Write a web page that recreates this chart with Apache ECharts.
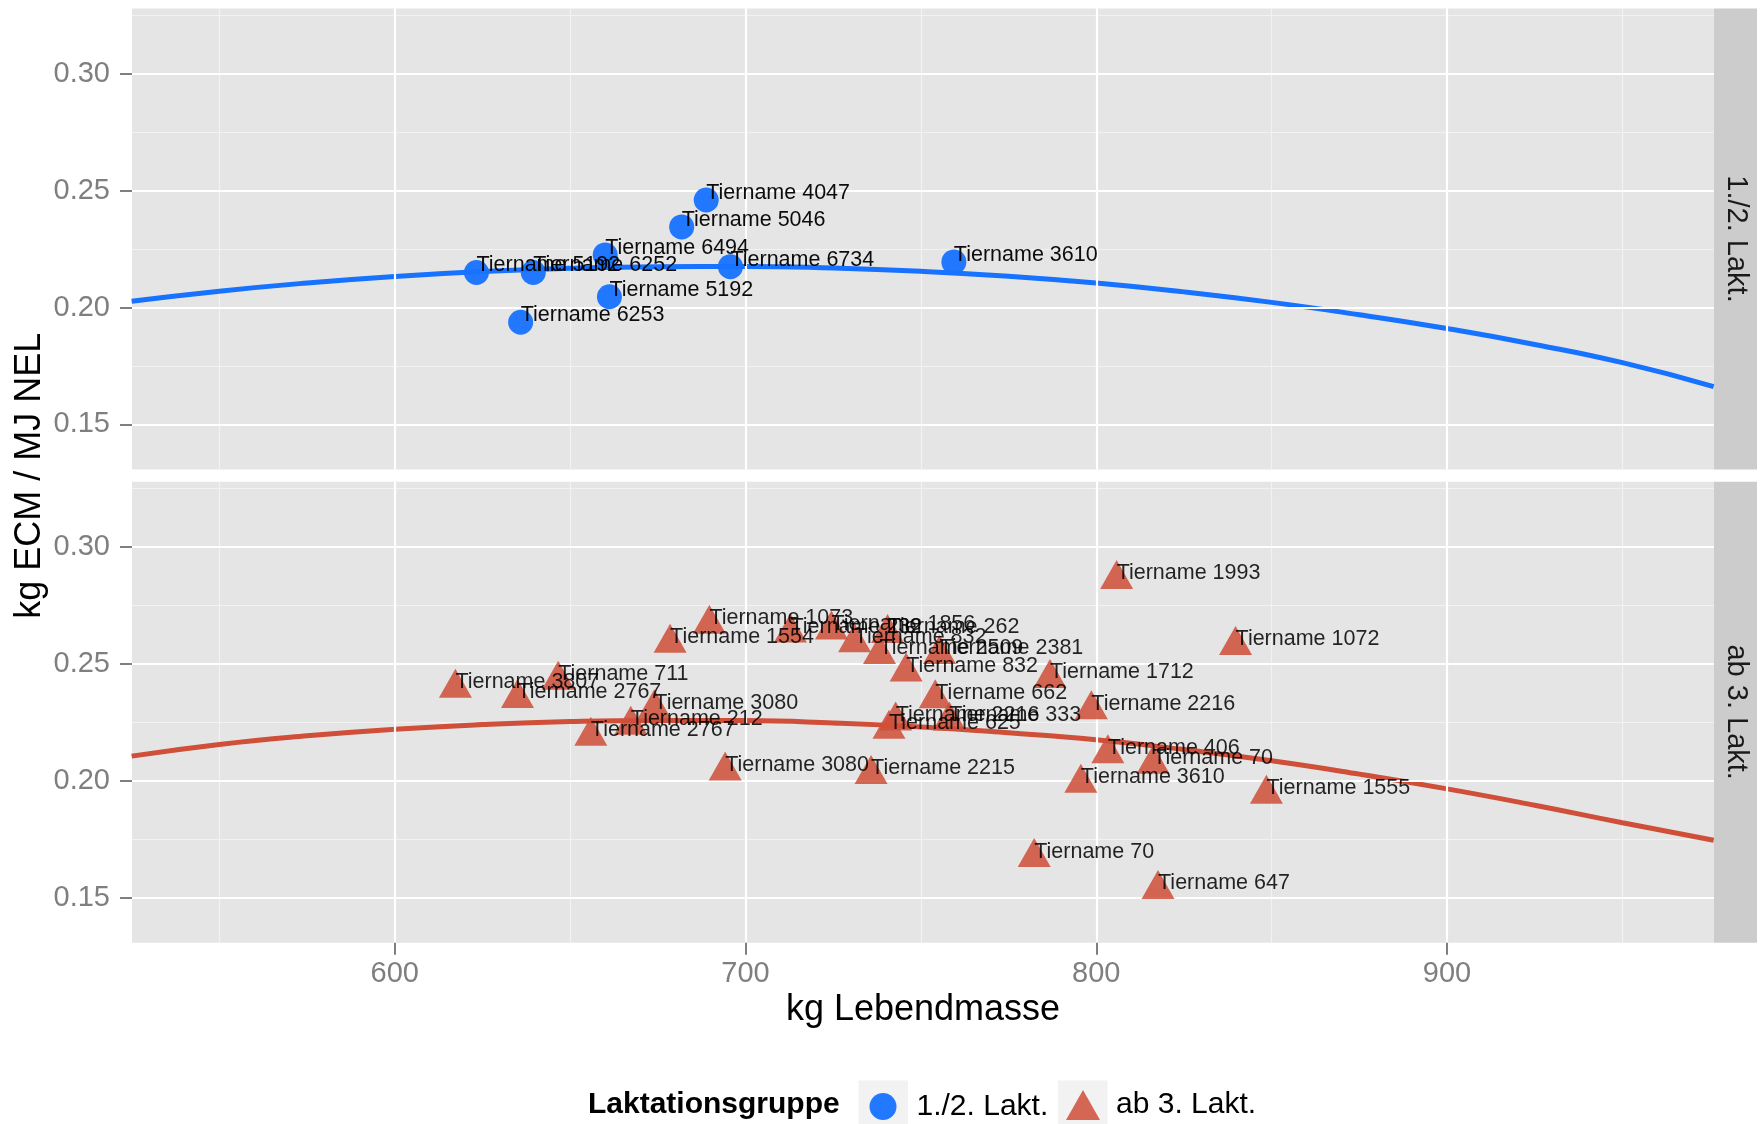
<!DOCTYPE html>
<html>
<head>
<meta charset="utf-8">
<script src="https://cdn.jsdelivr.net/npm/echarts@6/dist/echarts.min.js"></script>
<style>
html,body{margin:0;padding:0;background:#ffffff;}
#chart{width:1764px;height:1124px;}
</style>
</head>
<body>
<div id="chart"></div>
<script>
// ---------------- data ----------------
const groupNames = ['1./2. Lakt.', 'ab 3. Lakt.'];

const lakt12Names = ['Tiername 4047','Tiername 5046','Tiername 6494','Tiername 6734','Tiername 3610',
  'Tiername 5192','Tiername 6252','Tiername 5192','Tiername 6253'];
const lakt12X = [688.8, 681.8, 660.0, 695.7, 759.4, 623.3, 639.5, 661.2, 635.9];
const lakt12Y = [0.2460, 0.2345, 0.2225, 0.2175, 0.2195, 0.2150, 0.2150, 0.2046, 0.1937];

const lakt3Names = ['Tiername 3807','Tiername 2767','Tiername 711','Tiername 2767','Tiername 212',
  'Tiername 3080','Tiername 1554','Tiername 1073','Tiername 3080','Tiername 232',
  'Tiername 1856','Tiername 832','Tiername 262','Tiername 2509','Tiername 832',
  'Tiername 2381','Tiername 662','Tiername 625','Tiername 2216','Tiername 333',
  'Tiername 2215','Tiername 1993','Tiername 1072','Tiername 1712','Tiername 2216',
  'Tiername 406','Tiername 70','Tiername 3610','Tiername 1555','Tiername 70','Tiername 647'];
const lakt3X = [617.3, 635.0, 646.6, 655.9, 667.3,
  674.0, 678.5, 689.7, 694.2, 712.8,
  724.5, 731.1, 740.5, 738.2, 745.8,
  755.3, 754.1, 740.9, 742.8, 758.1,
  735.8, 805.8, 839.7, 786.8, 798.6,
  803.3, 816.2, 795.6, 848.5, 782.3, 817.6];
const lakt3Y = [0.2395, 0.2352, 0.2430, 0.2190, 0.2237,
  0.2308, 0.2588, 0.2669, 0.2042, 0.2632,
  0.2645, 0.2590, 0.2630, 0.2540, 0.2465,
  0.2540, 0.2350, 0.2220, 0.2255, 0.2255,
  0.2027, 0.2861, 0.2578, 0.2437, 0.2303,
  0.2115, 0.2070, 0.1989, 0.1942, 0.1671, 0.1535];

// fitted curves
const fitX   = [525, 550, 575, 600, 625, 650, 675, 700, 725, 750, 775, 800, 825, 850, 875, 900, 925, 950, 976];
const fit12Y = [0.2027, 0.2070, 0.2105, 0.2133, 0.2154, 0.2168, 0.2175, 0.2176, 0.2169, 0.2155,
                0.2134, 0.2105, 0.2067, 0.2022, 0.1969, 0.1910, 0.1842, 0.1764, 0.1662];
const fit3Y  = [0.2105, 0.2155, 0.2192, 0.2220, 0.2240, 0.2253, 0.2258, 0.2257, 0.2247, 0.2230,
                0.2205, 0.2175, 0.2133, 0.2085, 0.2028, 0.1965, 0.1895, 0.1820, 0.1745];

const xTicks = [600, 700, 800, 900];
const xMinorTicks = [550, 650, 750, 850, 950];
const yTicks = [0.15, 0.20, 0.25, 0.30];
const yMinorTicks = [0.175, 0.225, 0.275, 0.325];
const xRange = [525.1, 976.1];
const yRange = [0.1307, 0.3279];

const xTitle = 'kg Lebendmasse';
const yTitle = 'kg ECM / MJ NEL';
const legendTitle = 'Laktationsgruppe';

// ---------------- style ----------------
const BLUE = '#1672FF';
const RED = '#CF4F38';
const FONT = '"Liberation Sans", Arial, Helvetica, sans-serif';
const PANEL_L = 132, PANEL_R = 1714;
const panels = [{top: 8.6, height: 460.9}, {top: 481.7, height: 461}];
const STRIP_W = 43;

const chart = echarts.init(document.getElementById('chart'), null, {renderer: 'canvas'});

function majorX(gi, bottom) {
  return {
    type: 'value', gridIndex: gi, min: xRange[0], max: xRange[1], position: 'bottom', z: 2,
    axisLine: {show: false},
    axisTick: {show: bottom, customValues: xTicks, length: 12, lineStyle: {color: '#7F7F7F', width: 2}},
    axisLabel: {show: bottom, customValues: xTicks, color: '#7F7F7F', fontSize: 29, fontFamily: FONT, margin: 17},
    splitLine: {show: true, lineStyle: {color: '#FFFFFF', width: 2.2}},
    name: bottom ? xTitle : '', nameLocation: 'middle', nameGap: 49,
    nameTextStyle: {color: '#000000', fontSize: 36, fontFamily: FONT}
  };
}
function minorX(gi) {
  return {
    type: 'value', gridIndex: gi, min: xRange[0], max: xRange[1], position: 'top', z: 1,
    axisLine: {show: false},
    axisTick: {show: false, customValues: xMinorTicks},
    axisLabel: {show: false, customValues: xMinorTicks},
    splitLine: {show: true, lineStyle: {color: '#F2F2F2', width: 1.2}}
  };
}
function majorY(gi) {
  return {
    type: 'value', gridIndex: gi, min: yRange[0], max: yRange[1], position: 'left', z: 2,
    axisLine: {show: false},
    axisTick: {show: true, customValues: yTicks, length: 12, lineStyle: {color: '#7F7F7F', width: 2}},
    axisLabel: {show: true, customValues: yTicks, color: '#7F7F7F', fontSize: 29, fontFamily: FONT, margin: 22,
      formatter: v => Number(v).toFixed(2)},
    splitLine: {show: true, lineStyle: {color: '#FFFFFF', width: 2.2}}
  };
}
function minorY(gi) {
  return {
    type: 'value', gridIndex: gi, min: yRange[0], max: yRange[1], position: 'right', z: 1,
    axisLine: {show: false},
    axisTick: {show: false, customValues: yMinorTicks},
    axisLabel: {show: false, customValues: yMinorTicks},
    splitLine: {show: true, lineStyle: {color: '#F2F2F2', width: 1.2}}
  };
}

const labelStyle = {
  show: true, position: 'inside', align: 'left', verticalAlign: 'middle',
  color: '#000000', fontSize: 21.5, fontFamily: FONT,
  formatter: p => p.data[2]
};

const option = {
  animation: false,
  backgroundColor: '#ffffff',
  grid: panels.map(p => ({
    left: PANEL_L, top: p.top, width: PANEL_R - PANEL_L, height: p.height,
    show: true, backgroundColor: '#E5E5E5', borderWidth: 0, containLabel: false
  })),
  xAxis: [majorX(0, false), majorX(1, true), minorX(0), minorX(1)],
  yAxis: [majorY(0), majorY(1), minorY(0), minorY(1)],
  legend: [
    {
      data: [{name: groupNames[0], icon: 'circle'}], selectedMode: false,
      left: 869.5, top: 1091.5, itemWidth: 27, itemHeight: 27, itemGap: 0, padding: 0,
      textStyle: {color: '#000000', fontSize: 30, fontFamily: FONT, padding: [0, 0, 0, 15]}
    },
    {
      data: [{name: groupNames[1], icon: 'triangle'}], selectedMode: false,
      left: 1066, top: 1090, itemWidth: 34, itemHeight: 30, itemGap: 0, padding: 0,
      textStyle: {color: '#000000', fontSize: 30, fontFamily: FONT, padding: [0, 0, 0, 11]}
    }
  ],
  graphic: [
    {type: 'rect', shape: {x: PANEL_R, y: panels[0].top, width: STRIP_W, height: panels[0].height}, style: {fill: '#CCCCCC'}, silent: true},
    {type: 'rect', shape: {x: PANEL_R, y: panels[1].top, width: STRIP_W, height: panels[1].height}, style: {fill: '#CCCCCC'}, silent: true},
    {type: 'text', x: PANEL_R + STRIP_W / 2, y: panels[0].top + panels[0].height / 2, rotation: -Math.PI / 2,
      style: {text: groupNames[0], fill: '#1A1A1A', font: '29px ' + FONT, align: 'center', verticalAlign: 'middle'}, silent: true},
    {type: 'text', x: PANEL_R + STRIP_W / 2, y: panels[1].top + panels[1].height / 2, rotation: -Math.PI / 2,
      style: {text: groupNames[1], fill: '#1A1A1A', font: '29px ' + FONT, align: 'center', verticalAlign: 'middle'}, silent: true},
    {type: 'text', x: 30, y: (panels[0].top + panels[1].top + panels[1].height) / 2, rotation: Math.PI / 2,
      style: {text: yTitle, fill: '#000000', font: '36px ' + FONT, align: 'center', verticalAlign: 'middle'}, silent: true},
    {type: 'text', x: 588, y: 1105, style: {text: legendTitle, fill: '#000000', font: 'bold 30px ' + FONT, align: 'left', verticalAlign: 'middle'}, silent: true},
    {type: 'rect', shape: {x: 858.5, y: 1080.5, width: 49.5, height: 49.5}, style: {fill: '#F2F2F2'}, silent: true, z: -1},
    {type: 'rect', shape: {x: 1058, y: 1080.5, width: 49.5, height: 49.5}, style: {fill: '#F2F2F2'}, silent: true, z: -1}
  ],
  series: [
    {
      name: 'fit12', type: 'line', xAxisIndex: 0, yAxisIndex: 0, z: 1,
      data: fitX.map((x, i) => [x, fit12Y[i]]), smooth: true, showSymbol: false, silent: true,
      lineStyle: {color: BLUE, width: 5}
    },
    {
      name: 'fit3', type: 'line', xAxisIndex: 1, yAxisIndex: 1, z: 1,
      data: fitX.map((x, i) => [x, fit3Y[i]]), smooth: true, showSymbol: false, silent: true,
      lineStyle: {color: RED, width: 5}
    },
    {
      name: groupNames[0], type: 'scatter', xAxisIndex: 0, yAxisIndex: 0, z: 2,
      data: lakt12X.map((x, i) => [x, lakt12Y[i], lakt12Names[i]]),
      symbol: 'circle', symbolSize: 25,
      itemStyle: {color: BLUE, opacity: 0.95},
      label: Object.assign({}, labelStyle, {offset: [0, -7]}),
      emphasis: {disabled: true}
    },
    {
      name: groupNames[1], type: 'scatter', xAxisIndex: 1, yAxisIndex: 1, z: 2,
      data: lakt3X.map((x, i) => [x, lakt3Y[i], lakt3Names[i]]),
      symbol: 'triangle', symbolSize: [33, 29], symbolOffset: [0, -5],
      itemStyle: {color: RED, opacity: 0.85},
      label: Object.assign({}, labelStyle, {offset: [0, -1]}),
      emphasis: {disabled: true}
    }
  ]
};
chart.setOption(option);
</script>
</body>
</html>
